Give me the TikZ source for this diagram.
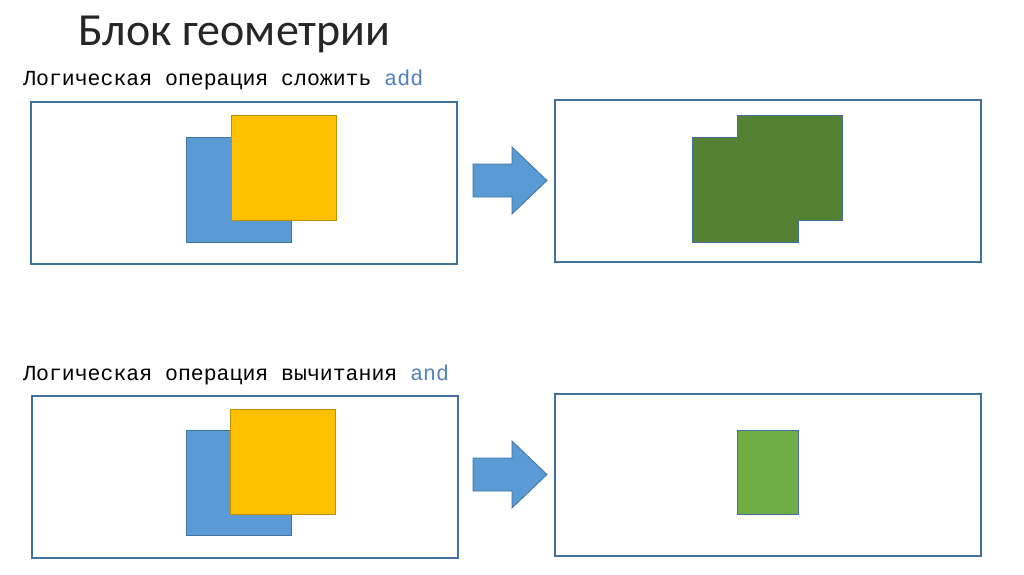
\documentclass[tikz,border=0pt]{standalone}
\usepackage{fontspec}
\setmainfont{Carlito}
\newfontfamily\codefont{Liberation Mono}
\usetikzlibrary{positioning}
\definecolor{frameblue}{HTML}{41719C}
\definecolor{shapeblue}{HTML}{5B9BD5}
\definecolor{gold}{HTML}{FFC000}
\definecolor{darkleaf}{HTML}{548235}
\definecolor{leaf}{HTML}{70AD47}
\definecolor{kw}{HTML}{4F81BD}

\begin{document}
\begin{tikzpicture}[
  x=1pt,y=-1pt,
  frame/.style={draw=frameblue,line width=2pt,minimum width=426pt,minimum height=162pt,inner sep=0pt},
  sq/.style={minimum width=105pt,minimum height=105pt,inner sep=0pt,line width=0.8pt},
  bluesq/.style={sq,fill=shapeblue,draw=frameblue},
  goldsq/.style={sq,fill=gold,draw=gold!75!black},
  caption/.style={anchor=base west,inner sep=0pt,font=\codefont\fontsize{21.5}{24}\selectfont},
  blockarrow/.style={fill=shapeblue,draw=frameblue,line width=0.8pt,line join=miter}
]
  \useasboundingbox (0,0) rectangle (1024,574);

  \node[anchor=base west,inner sep=0pt,text=black!85,font=\fontsize{46}{54}\selectfont] (title) at (78,45) {Блок геометрии};

  % add
  \node[caption] (addtxt) at (23,85) {Логическая операция сложить \textcolor{kw}{add}};
  \node[frame] (addin) at (244,183) {};
  \node[frame] (addout) at (768,181) {};
  \node[bluesq] (addA) at (238.5,189.5) {};
  \node[goldsq] (addB) at (283.5,168) {};
  \fill[darkleaf,draw=frameblue,line width=0.8pt]
    (692,137) -- (737,137) -- (737,115) -- (842,115) -- (842,220) -- (798,220)
    -- (798,242) -- (692,242) -- cycle;
  \draw[blockarrow] (473,164) -- (512,164) -- (512,147) -- (547,180.5)
    -- (512,214) -- (512,197) -- (473,197) -- cycle;

  % and
  \node[caption] (andtxt) at (23,380) {Логическая операция вычитания \textcolor{kw}{and}};
  \node[frame] (andin) at (244.5,476.5) {};
  \node[frame] (andout) at (768,474.5) {};
  \node[bluesq] (andA) at (238.5,483) {};
  \node[goldsq] (andB) at (283,461.5) {};
  \node[fill=leaf,draw=frameblue,line width=0.8pt,minimum width=61pt,minimum height=84pt,inner sep=0pt] (andres) at (767.5,472) {};
  \draw[blockarrow] (473,458) -- (512,458) -- (512,441) -- (547,474.5)
    -- (512,508) -- (512,491) -- (473,491) -- cycle;
\end{tikzpicture}
\end{document}
